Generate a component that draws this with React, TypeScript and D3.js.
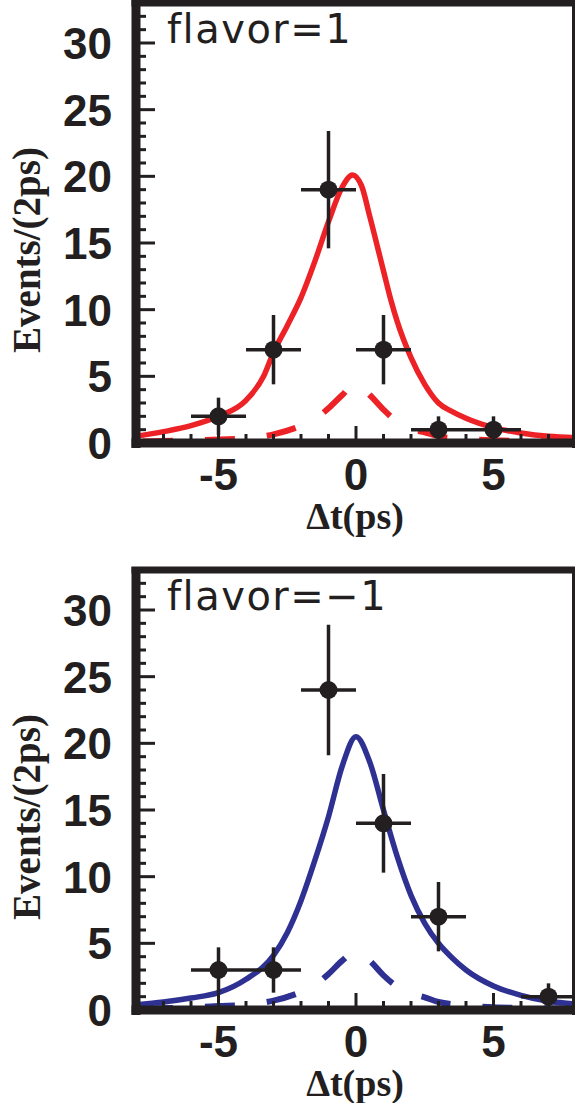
import React from 'react';
import * as d3 from 'd3';

const W = 575;
const H = 1103;

const xTickLabels = [-5, 0, 5];
const yTickLabels = [0, 5, 10, 15, 20, 25, 30];

// flavor = 1 panel
const p1Dt = [-5, -3, -1, 1, 3, 5];
const p1Events = [2, 7, 19, 7, 1, 1];
const p1Err = [1.4, 2.6, 4.4, 2.6, 1.0, 1.0];
const p1FitDt = [-8, -7, -6, -5, -4, -3.36, -3, -2.5, -2, -1.5, -1, -0.5, -0.13, 0.2, 0.5, 1, 1.27, 1.5, 2, 2.5, 3, 3.5, 4, 5, 6, 7, 8];
const p1Fit = [0.5, 0.85, 1.3, 2.0, 3.2, 5, 6.8, 8.8, 10.9, 13.6, 16.6, 19.2, 20.1, 19.3, 17, 12.9, 10.7, 9.1, 6.4, 4.4, 3.0, 2.35, 1.85, 1.15, 0.75, 0.5, 0.4];
const bkgDt = [-8, -6, -5, -4, -3, -2, -1.5, -1, -0.5, 0, 0.5, 1, 1.5, 2, 2.5, 3, 4, 5, 6, 8];
const p1Bkg = [0.1, 0.2, 0.27, 0.35, 0.65, 1.3, 1.8, 2.6, 3.6, 4.5, 3.6, 2.5, 1.6, 1.05, 0.8, 0.5, 0.3, 0.2, 0.15, 0.1];

// flavor = -1 panel
const p2Dt = [-5, -3, -1, 1, 3, 7];
const p2Events = [3, 3, 24, 14, 7, 1];
const p2Err = [1.7, 1.7, 4.9, 3.7, 2.6, 1.0];
const p2FitDt = [-8, -7, -6, -5, -4, -3, -2.5, -2, -1.5, -1, -0.5, 0, 0.5, 1, 1.5, 2, 2.5, 3, 3.5, 4, 5, 6, 7, 8];
const p2Fit = [0.4, 0.6, 0.9, 1.3, 2.3, 4.1, 5.8, 8.2, 11.2, 14.5, 18.3, 20.5, 18.6, 15, 11.5, 8.6, 6.5, 5.0, 3.9, 3.0, 1.8, 1.1, 0.65, 0.45];
const p2Bkg = [0.1, 0.2, 0.3, 0.4, 0.7, 1.35, 1.85, 2.7, 3.7, 4.4, 3.7, 2.6, 1.75, 1.25, 0.95, 0.6, 0.35, 0.2, 0.15, 0.1];

const RED = '#ec2227';
const BLUE = '#2e3192';
const INK = '#231f20';

type PanelProps = {
  id: string;
  offset: number;
  label: string;
  dt: number[];
  events: number[];
  err: number[];
  fitDt: number[];
  fit: number[];
  bkg: number[];
  color: string;
};

function Panel({ id, offset, label, dt, events, err, fitDt, fit, bkg, color }: PanelProps) {
  const x = d3.scaleLinear().domain([-8, 8]).range([136, 576]);
  const y = d3.scaleLinear().domain([0, 33]).range([443, 3]);
  const line = d3
    .line<[number, number]>()
    .x((d) => x(d[0]))
    .y((d) => y(d[1]))
    .curve(d3.curveMonotoneX);
  const fitPath = line(fitDt.map((v, i) => [v, fit[i]] as [number, number])) || '';
  const bkgPath = line(bkgDt.map((v, i) => [v, bkg[i]] as [number, number])) || '';
  const xMinor = d3.range(-7, 8, 1);
  const yMinor = d3.range(1, 33, 1);
  const sans = "'Liberation Sans', Arial, Helvetica, sans-serif";
  const serif = "'Liberation Serif', 'Times New Roman', serif";
  const [x0, x1] = x.range();
  const [yb, yt] = y.range();
  return (
    <g transform={`translate(0,${offset})`}>
      <defs>
        <clipPath id={`clip-${id}`}>
          <rect x={x0} y={yt} width={x1 - x0} height={yb - yt} />
        </clipPath>
      </defs>
      <g clipPath={`url(#clip-${id})`}>
        <path d={bkgPath} fill="none" stroke={color} strokeWidth={6} strokeDasharray="30 32" strokeDashoffset={55} />
        <path d={fitPath} fill="none" stroke={color} strokeWidth={5.5} />
        {dt.map((v, i) => (
          <g key={i} stroke={INK} strokeWidth={3.5}>
            <line x1={x(v - 1)} x2={x(v + 1)} y1={y(events[i])} y2={y(events[i])} />
            <line x1={x(v)} x2={x(v)} y1={y(events[i] - err[i])} y2={y(events[i] + err[i])} />
            <circle cx={x(v)} cy={y(events[i])} r={9} fill={INK} stroke="none" />
          </g>
        ))}
      </g>
      {/* ticks */}
      {yMinor.map((t) => (
        <line key={`yt${t}`} x1={x0} x2={x0 + 5 + (t % 5 === 0 ? 14 : 5)} y1={y(t)} y2={y(t)} stroke={INK} strokeWidth={3} />
      ))}
      {xMinor.map((t) => (
        <line key={`xt${t}`} x1={x(t)} x2={x(t)} y1={yb} y2={yb - 4 - (t % 5 === 0 ? 13 : 5)} stroke={INK} strokeWidth={3} />
      ))}
      {/* frame */}
      <line x1={x0} x2={x0} y1={0} y2={yb + 5} stroke={INK} strokeWidth={9} />
      <line x1={x0 - 4.5} x2={x1 + 4} y1={yb} y2={yb} stroke={INK} strokeWidth={9} />
      <line x1={x0 - 4.5} x2={x1 + 4} y1={yt} y2={yt} stroke={INK} strokeWidth={7} />
      <line x1={x1} x2={x1} y1={0} y2={yb + 5} stroke={INK} strokeWidth={8} />
      {/* labels */}
      {yTickLabels.map((t) => (
        <text key={`yl${t}`} x={112} y={y(t) + 16} textAnchor="end" fontFamily={sans} fontWeight="bold" fontSize={44} fill={INK}>
          {t}
        </text>
      ))}
      {xTickLabels.map((t) => (
        <text key={`xl${t}`} x={x(t)} y={490} textAnchor="middle" fontFamily={sans} fontWeight="bold" fontSize={44} fill={INK}>
          {t < 0 ? `-${Math.abs(t)}` : t}
        </text>
      ))}
      <text x={355} y={529} textAnchor="middle" fontFamily={serif} fontWeight="bold" fontSize={38} fill={INK}>
        Δt(ps)
      </text>
      <text
        transform={`translate(40,250) rotate(-90)`}
        textAnchor="middle"
        fontFamily={serif}
        fontWeight="bold"
        fontSize={39}
        fill={INK}
      >
        Events/(2ps)
      </text>
      <text x={167} y={43} fontFamily="'DejaVu Sans', sans-serif" fontSize={40} letterSpacing={1.5} fill={INK}>
        {label}
      </text>
    </g>
  );
}

export default function App() {
  return (
    <svg
      width={W}
      height={H}
      viewBox={`0 0 ${W} ${H}`}
      style={{ position: 'absolute', left: 0, top: 0, background: '#fff' }}
    >
      <Panel id="p1" offset={0} label="flavor=1" dt={p1Dt} events={p1Events} err={p1Err} fitDt={p1FitDt} fit={p1Fit} bkg={p1Bkg} color={RED} />
      <Panel id="p2" offset={567} label="flavor=−1" dt={p2Dt} events={p2Events} err={p2Err} fitDt={p2FitDt} fit={p2Fit} bkg={p2Bkg} color={BLUE} />
    </svg>
  );
}
